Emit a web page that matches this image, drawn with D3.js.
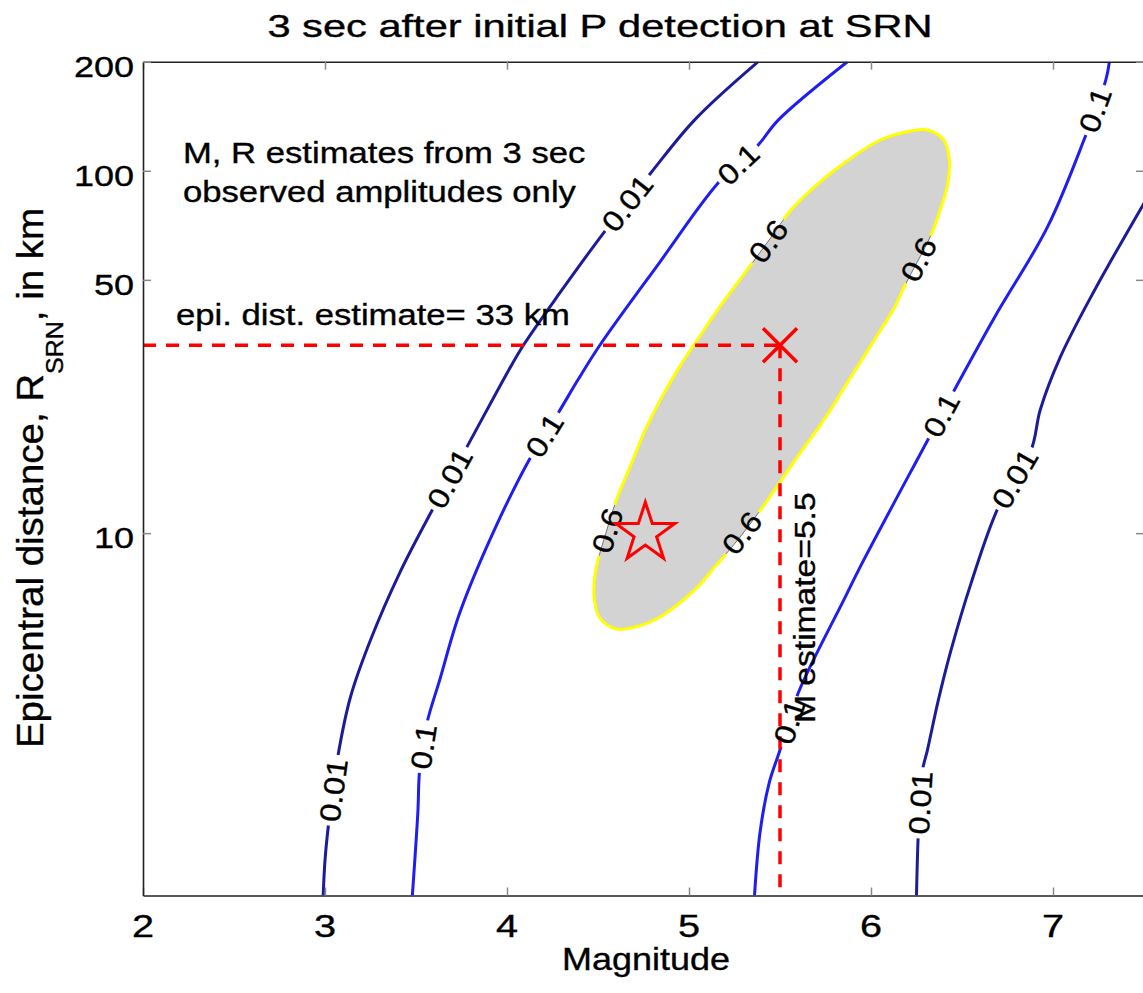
<!DOCTYPE html>
<html><head><meta charset="utf-8">
<script src="https://cdn.jsdelivr.net/npm/d3@7"></script>
<style>
body{margin:0;background:#fff;}
text{font-family:"Liberation Sans",Arial,Helvetica,sans-serif;fill:#000;stroke:#000;stroke-width:0.35px;}
</style>
</head><body>
<svg id="chart" width="1143" height="993"></svg>
<script>
// ---------- data ----------
const titleText = "3 sec after initial P detection at SRN";
const xLabelText = "Magnitude";
const xDomain = [2, 7.5];
const yDomain = [1, 200];
const xTicks = [2, 3, 4, 5, 6, 7];
const yTicks = [10, 50, 100, 200];
const xTickLabels = ["2", "3", "4", "5", "6", "7"];
const yTickLabels = ["10", "50", "100", "200"];

// contour lines: [magnitude, distance km]
const contour001Left = [[5.38,200],[5.03,138],[4.79,98.6],[4.53,67.3],[4.29,46.0],[4.09,33.0],[4.01,28.2],[3.78,17.3],[3.59,11.6],[3.41,7.76],[3.25,5.07],[3.14,3.53],[3.07,2.41],[3.02,1.58],[3.00,1.25],[2.99,1.0]];
const contour01Left = [[5.87,200],[5.49,138],[5.38,117.8],[5.16,92.5],[4.84,56.0],[4.51,33.0],[4.39,26.5],[4.28,21.4],[4.13,16.2],[3.93,10.2],[3.74,6.02],[3.63,3.93],[3.56,2.99],[3.52,2.22],[3.51,1.69],[3.48,1.0]];
const contour01Right = [[7.31,200],[7.29,178],[7.17,121.6],[6.97,70.0],[6.68,39.5],[6.45,24.4],[6.32,18.4],[5.94,8.06],[5.85,6.53],[5.60,3.62],[5.50,2.52],[5.44,2.04],[5.39,1.49],[5.36,1.0]];
const contour001Right = [[7.52,84.7],[7.22,46.0],[7.04,30.6],[6.93,21.9],[6.88,16.96],[6.70,11.8],[6.55,7.28],[6.44,4.76],[6.37,3.46],[6.31,2.52],[6.28,2.18],[6.26,1.49],[6.25,1.0]];
const contour06 = [[6.31,129.6],[6.40,121.6],[6.43,107.1],[6.42,91.3],[6.38,77.9],[6.33,66.5],[6.26,56.7],[6.19,48.7],[6.13,42.1],[6.00,33.0],[5.88,26.5],[5.74,20.5],[5.59,16.1],[5.43,12.3],[5.28,9.75],[5.15,8.16],[5.03,6.96],[4.84,5.87],[4.70,5.50],[4.60,5.44],[4.51,5.83],[4.48,6.53],[4.48,7.43],[4.50,8.42],[4.54,9.88],[4.60,12.3],[4.68,15.4],[4.76,19.3],[4.85,23.7],[4.95,28.9],[5.06,35.0],[5.18,42.9],[5.31,52.5],[5.44,64.4],[5.56,77.9],[5.70,91.3],[5.86,105.7],[6.05,121.6],[6.22,128.8]];

const contourData = [contour001Left, contour01Left, contour01Right, contour001Right];
const contourLevel = ["0.01", "0.1", "0.1", "0.01"];
const levelColor = {"0.01": "#1c1c9a", "0.1": "#1e1ef2", "0.6": "#ffff00"};

// inline labels: placed between vertex a and vertex b of a line
const labelLine = ["c001L","c001L","c001L","c01L","c01L","c01L","c01R","c01R","c01R","c001R","c001R","e06","e06","e06","e06"];
const labelA    = [2, 7, 12, 2, 7, 12, 1, 5, 9, 4, 10, 5, 13, 23, 32];
const labelB    = [3, 8, 13, 3, 8, 13, 2, 6, 10, 5, 11, 7, 15, 25, 34];
const labelText = ["0.01","0.01","0.01","0.1","0.1","0.1","0.1","0.1","0.1","0.01","0.01","0.6","0.6","0.6","0.6"];

const estimateM = 5.5;
const estimateR = 33;
const eventM = 4.76;
const eventR = 10;

const note1 = "M, R estimates from 3 sec";
const note2 = "observed amplitudes only";
const distNote = "epi. dist. estimate= 33 km";
const magNote = "M estimate=5.5";

// ---------- layout ----------
const W = 1143, H = 993;
const plot = {left: 143, right: 1144, top: 61.7, bottom: 895.5};
const svg = d3.select("#chart");
const x = d3.scaleLinear().domain(xDomain).range([plot.left, plot.right]);
const y = d3.scaleLog().domain(yDomain).range([plot.bottom, plot.top]);

const defs = svg.append("defs");
defs.append("clipPath").attr("id", "plotClip").append("rect")
  .attr("x", plot.left).attr("y", plot.top)
  .attr("width", plot.right - plot.left).attr("height", plot.bottom - plot.top);
const mask = defs.append("mask").attr("id", "labelMask")
  .attr("maskUnits", "userSpaceOnUse").attr("x", 0).attr("y", 0).attr("width", W).attr("height", H);
mask.append("rect").attr("width", W).attr("height", H).attr("fill", "white");

const pt = d => [x(d[0]), y(d[1])];
const lineGen = d3.line().x(d => x(d[0])).y(d => y(d[1])).curve(d3.curveCatmullRom.alpha(0.5));
const closedGen = d3.line().x(d => x(d[0])).y(d => y(d[1])).curve(d3.curveCatmullRomClosed.alpha(0.5));

const content = svg.append("g").attr("clip-path", "url(#plotClip)");

// filled 0.6 region
content.append("path").attr("d", closedGen(contour06))
  .attr("fill", "#d3d3d3").attr("stroke", "#555").attr("stroke-width", 0.8);

const lines = content.append("g").attr("mask", "url(#labelMask)");
lines.append("path").attr("d", closedGen(contour06))
  .attr("fill", "none").attr("stroke", levelColor["0.6"]).attr("stroke-width", 3);
contourData.forEach((c, i) => {
  lines.append("path").attr("d", lineGen(c)).attr("fill", "none")
    .attr("stroke", levelColor[contourLevel[i]]).attr("stroke-width", 3)
    .attr("stroke-linejoin", "round");
});

// dashed estimate lines
const dash = content.append("g").attr("stroke", "#ff0000").attr("stroke-width", 3.5)
  .attr("stroke-dasharray", "13,10").attr("fill", "none");
dash.append("line").attr("x1", x(xDomain[0])).attr("y1", y(estimateR))
  .attr("x2", x(estimateM)).attr("y2", y(estimateR));
dash.append("line").attr("x1", x(estimateM)).attr("y1", y(estimateR))
  .attr("x2", x(estimateM)).attr("y2", y(yDomain[0]));

// inline contour labels
const lineLookup = {c001L: contour001Left, c01L: contour01Left, c01R: contour01Right, c001R: contour001Right, e06: contour06};
const labG = svg.append("g");
labelText.forEach((t, i) => {
  const c = lineLookup[labelLine[i]];
  const p1 = pt(c[labelA[i]]), p2 = pt(c[labelB[i]]);
  const cx = (p1[0] + p2[0]) / 2, cy = (p1[1] + p2[1]) / 2;
  let ang = Math.atan2(p2[1] - p1[1], p2[0] - p1[0]) * 180 / Math.PI;
  if (ang > 90) ang -= 180;
  if (ang <= -90) ang += 180;
  const sx = 1.12;
  const tx = labG.append("text")
    .attr("transform", `translate(${cx},${cy}) rotate(${ang}) scale(${sx},1)`)
    .attr("text-anchor", "middle").attr("dy", "0.36em")
    .attr("font-size", 29).text(t);
  const len = tx.node().getComputedTextLength() * sx + 8;
  mask.append("rect").attr("x", -len / 2).attr("y", -11).attr("width", len).attr("height", 22)
    .attr("fill", "black").attr("transform", `translate(${cx},${cy}) rotate(${ang})`);
});

// markers
svg.append("path").attr("d", d3.symbol(d3.symbolStar).size(1080)())
  .attr("transform", `translate(${x(eventM)},${y(eventR)})`)
  .attr("fill", "none").attr("stroke", "#ff0000").attr("stroke-width", 3).attr("stroke-linejoin", "miter");
svg.append("path").attr("d", d3.symbol(d3.symbolTimes).size(760)())
  .attr("transform", `translate(${x(estimateM)},${y(estimateR)})`)
  .attr("fill", "none").attr("stroke", "#ff0000").attr("stroke-width", 3.5);

// axes (ticks inside)
function styleAxis(g) {
  g.select(".domain").attr("stroke", "#222").attr("stroke-width", 1.6);
  g.selectAll(".tick line").attr("stroke", "#888").attr("stroke-width", 1.5);
  g.selectAll(".tick text").remove();
}
svg.append("g").attr("transform", `translate(0,${plot.bottom})`)
  .call(d3.axisBottom(x).tickValues(xTicks).tickSizeInner(-8).tickSizeOuter(0)).call(styleAxis);
svg.append("g").attr("transform", `translate(0,${plot.top})`)
  .call(d3.axisTop(x).tickValues(xTicks).tickSizeInner(-8).tickSizeOuter(0)).call(styleAxis);
svg.append("g").attr("transform", `translate(${plot.left},0)`)
  .call(d3.axisLeft(y).tickValues(yTicks).tickSizeInner(-8).tickSizeOuter(0)).call(styleAxis);
svg.append("g").attr("transform", `translate(${plot.right},0)`)
  .call(d3.axisRight(y).tickValues(yTicks).tickSizeInner(-8).tickSizeOuter(0)).call(styleAxis);

// texts
function addText(opt) {
  const t = svg.append("text")
    .attr("transform", `translate(${opt.x},${opt.y}) rotate(${opt.rotate || 0}) scale(${opt.sx || 1},1)`)
    .attr("text-anchor", opt.anchor || "start")
    .attr("font-size", opt.size);
  return t.text(opt.text);
}
xTicks.forEach((v, i) => addText({x: x(v), y: 937, text: xTickLabels[i], size: 31, sx: 1.28, anchor: "middle"}));
yTicks.forEach((v, i) => addText({x: plot.left - 9, y: y(v) + 15, text: yTickLabels[i], size: 30, sx: 1.2, anchor: "end"}));

addText({x: 600, y: 37, text: titleText, size: 32, sx: 1.3, anchor: "middle"});
addText({x: 646, y: 970, text: xLabelText, size: 30.5, sx: 1.18, anchor: "middle"});

const yl = svg.append("text").attr("transform", `translate(43,478) rotate(-90) scale(1.04,1)`)
  .attr("text-anchor", "middle").attr("font-size", 37);
yl.append("tspan").text("Epicentral distance, R");
yl.append("tspan").attr("font-size", 24).attr("dy", 20).text("SRN");
yl.append("tspan").attr("dy", -20).text(", in km");

addText({x: 183, y: 163, text: note1, size: 29.5, sx: 1.175});
addText({x: 183, y: 202, text: note2, size: 29.5, sx: 1.175});
addText({x: 176, y: 325, text: distNote, size: 29.5, sx: 1.175});
addText({x: 815, y: 723, text: magNote, size: 30, sx: 1.12, rotate: -90});
</script>
</body></html>
